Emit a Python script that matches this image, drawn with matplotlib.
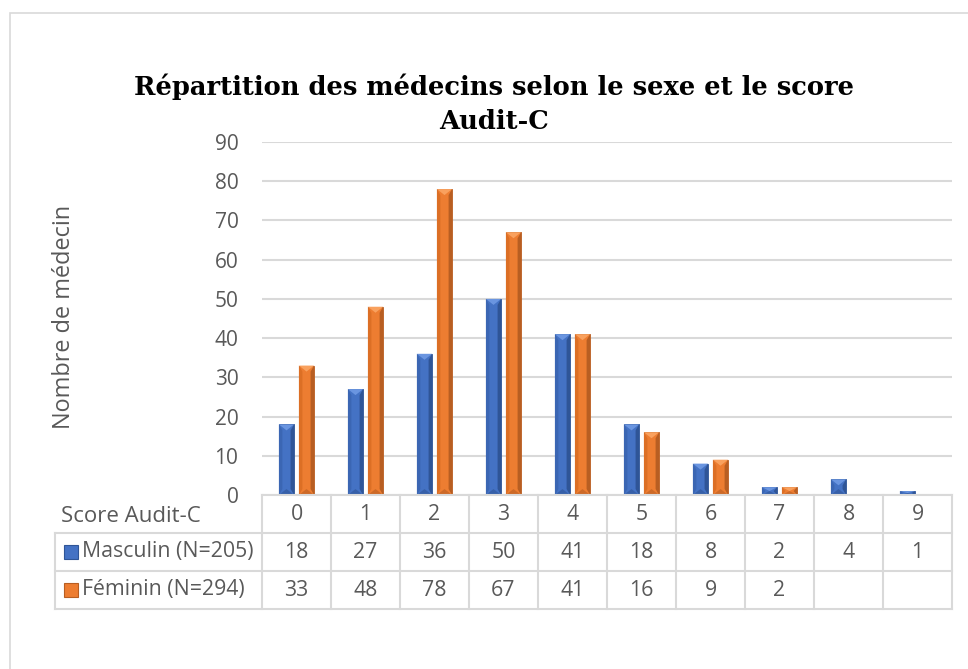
import matplotlib.pyplot as plt
from matplotlib.patches import Rectangle, Polygon
from matplotlib.lines import Line2D

# data
scores = ['0', '1', '2', '3', '4', '5', '6', '7', '8', '9']
masculin = [18, 27, 36, 50, 41, 18, 8, 2, 4, 1]
feminin = [33, 48, 78, 67, 41, 16, 9, 2, None, None]
series_names = ['Masculin (N=205)', 'Féminin (N=294)']

W, H = 968, 669
fig = plt.figure(figsize=(W / 100, H / 100), dpi=100)
plt.rcParams['font.family'] = ['Open Sans', 'DejaVu Sans']

def fx(px):
    return px / W

def fy(py):
    return 1 - py / H

grey_txt = '#595959'
grid_col = '#D9D9D9'
fs = 15.3

# outer chart border
fig.patches.append(Rectangle((fx(10), fy(680)), fx(980) - fx(10), fy(13) - fy(680),
                             transform=fig.transFigure, fill=False,
                             edgecolor=grid_col, linewidth=1.2))

# plot area
x0, x1, ytop, ybot = 262, 952, 142, 495
ax = fig.add_axes([fx(x0), fy(ybot), fx(x1) - fx(x0), fy(ytop) - fy(ybot)])
ax.set_xlim(-0.5, len(scores) - 0.5)
ax.set_ylim(0, 90)
ax.set_yticks(range(0, 91, 10))
ax.tick_params(axis='y', length=0, labelsize=15, labelcolor=grey_txt, pad=17)
ax.set_xticks([])
for s in ax.spines.values():
    s.set_visible(False)
ax.grid(axis='y', color=grid_col, linewidth=1.5)
ax.set_axisbelow(True)

colors = [('#4472C4', '#2F5597', '#6A95E0', '#3B66B3'),
          ('#ED7D31', '#B85E22', '#F9A15E', '#DC6F25')]
bw = 0.22
offs = [-0.145, 0.145]
ppx_y = 90 / (ybot - ytop)
ppx_x = len(scores) / (x1 - x0)

for si, vals in enumerate([masculin, feminin]):
    base, dark, light, mid = colors[si]
    for i, v in enumerate(vals):
        if v is None:
            continue
        c = i + offs[si]
        l, r = c - bw / 2, c + bw / 2
        ax.bar(c, v, width=bw, color=base, edgecolor=dark, linewidth=0.6, zorder=2)
        e = 3.5 * ppx_x
        ey = min(6 * ppx_y, v * 0.5)
        # right side darker strip
        ax.add_patch(Polygon([(r - e, ey), (r, 0), (r, v), (r - e, v - ey)],
                             color=dark, lw=0, zorder=3))
        # left side
        ax.add_patch(Polygon([(l, 0), (l + e, ey), (l + e, v - ey), (l, v)],
                             color=mid, lw=0, zorder=3))
        # top face lighter (triangle pointing down)
        ax.add_patch(Polygon([(l, v), (r, v), (c, v - ey)],
                             color=light, lw=0, zorder=3))
        # bottom face
        ax.add_patch(Polygon([(l, 0), (r, 0), (c, ey)],
                             color=dark, lw=0, zorder=3, alpha=0.6))

fig.text(fx(64), fy(317), 'Nombre de médecin', rotation=90, ha='center', va='center',
         fontsize=16.9, color=grey_txt)

# title
fig.text(fx(494), fy(104), 'Répartition des médecins selon le sexe et le score\nAudit-C',
         ha='center', va='center', fontsize=18.5, fontweight='bold',
         family='DejaVu Serif', linespacing=1.45, color='black')

# data table
rows_y = [495, 533, 571, 609]
col_w = (x1 - x0) / len(scores)
lab_left = 55

def hline(xa, xb, y):
    fig.add_artist(Line2D([fx(xa), fx(xb)], [fy(y), fy(y)], color=grid_col,
                          linewidth=1.5, transform=fig.transFigure))

def vline(x, ya, yb):
    fig.add_artist(Line2D([fx(x), fx(x)], [fy(ya), fy(yb)], color=grid_col,
                          linewidth=1.5, transform=fig.transFigure))

hline(x0, x1, rows_y[0])
for y in rows_y[1:]:
    hline(lab_left, x1, y)
for k in range(len(scores) + 1):
    vline(x0 + k * col_w, rows_y[0], rows_y[3])
vline(lab_left, rows_y[1], rows_y[3])

fig.text(fx(61), fy(517), 'Score Audit-C', ha='left', va='center', fontsize=fs + 0.7, color=grey_txt)
for k, s in enumerate(scores):
    cx = x0 + (k + 0.5) * col_w
    fig.text(fx(cx), fy(514), s, ha='center', va='center', fontsize=fs, color=grey_txt)
    for ri, vals in enumerate([masculin, feminin]):
        v = vals[k]
        if v is not None:
            fig.text(fx(cx), fy(552 + ri * 38), str(v), ha='center', va='center',
                     fontsize=fs, color=grey_txt)

for ri, name in enumerate(series_names):
    yc = 552 + ri * 38
    fig.patches.append(Rectangle((fx(64), fy(yc + 7)), fx(78) - fx(64), fy(yc - 7) - fy(yc + 7),
                                 transform=fig.transFigure, facecolor=colors[ri][0],
                                 edgecolor=colors[ri][1], linewidth=0.8))
    fig.text(fx(82), fy(yc), name, ha='left', va='center', fontsize=fs, color=grey_txt)

fig.savefig('out.png', dpi=100)
